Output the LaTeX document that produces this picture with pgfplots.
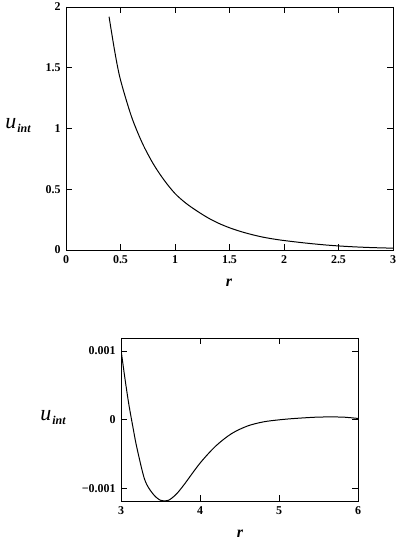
\documentclass[border=0pt]{standalone}
\usepackage{fontspec}
\setmainfont{Liberation Serif}
\usepackage{pgfplots}
\pgfplotsset{compat=1.18}
\begin{document}
\begin{tikzpicture}
\useasboundingbox (0bp,0bp) rectangle (400bp,541bp);
\pgfplotsset{
  myax/.style={
    scale only axis,
    axis line style={line width=0.9pt},
    tick align=inside,
    major tick length=6bp,
    tick style={line width=0.8pt, black},
    ticklabel style={font=\fontsize{12}{14}\selectfont\bfseries},
    xticklabel style={yshift=-2bp},
    yticklabel style={xshift=-2bp},
    scaled ticks=false,
    clip=true,
  }
}
\begin{axis}[myax,
  at={(66bp,291bp)}, anchor=south west,
  width=327bp, height=243bp,
  xmin=0, xmax=3, ymin=0, ymax=2,
  xtick={0,0.5,1,1.5,2,2.5,3},
  xticklabels={0,0.5,1,1.5,2,2.5,3},
  ytick={0,0.5,1,1.5,2},
  yticklabels={0,0.5,1,1.5,2},
]
\addplot[black, line width=1pt, smooth] coordinates {
(0.395,1.92) (0.45,1.62) (0.5,1.40) (0.6,1.10) (0.7,0.88) (0.8,0.71) (0.9,0.575)
(1.0,0.465) (1.1,0.385) (1.2,0.322) (1.3,0.266) (1.4,0.22) (1.5,0.183) (1.6,0.153)
(1.7,0.128) (1.8,0.107) (1.9,0.091) (2.0,0.078) (2.2,0.057) (2.4,0.04)
(2.6,0.028) (2.8,0.02) (3.0,0.015)
};
\end{axis}
\node[anchor=center, font=\fontsize{22}{24}\selectfont\itshape] at (18bp,415bp) {u\kern1pt\raisebox{-4pt}{\fontsize{12}{14}\selectfont\bfseries\itshape int}};
\node[font=\fontsize{16}{18}\selectfont\itshape\bfseries] at (229bp,258bp) {r};
\begin{axis}[myax,
  at={(121bp,40bp)}, anchor=south west,
  width=237bp, height=163bp,
  xmin=3, xmax=6, ymin=-0.00118, ymax=0.00119,
  xtick={3,4,5,6},
  xticklabels={3,4,5,6},
  ytick={-0.001,0,0.001},
  yticklabels={−0.001,0,0.001},
]
\addplot[black, line width=1pt, smooth] coordinates {
(3.0,0.00102) (3.05,0.00060) (3.1,0.00022) (3.15,-0.00010) (3.2,-0.00040)
(3.3,-0.00087) (3.4,-0.00107) (3.5,-0.00117) (3.6,-0.00117) (3.7,-0.00108)
(3.8,-0.00094) (4.0,-0.00063) (4.2,-0.00038) (4.4,-0.00020) (4.6,-0.00009)
(4.8,-0.00003) (5.0,0.0) (5.2,0.00002) (5.5,0.00004) (5.8,0.00004) (6.0,0.00002)
};
\end{axis}
\node[anchor=center, font=\fontsize{22}{24}\selectfont\itshape] at (53bp,123bp) {u\kern1pt\raisebox{-4pt}{\fontsize{12}{14}\selectfont\bfseries\itshape int}};
\node[font=\fontsize{16}{18}\selectfont\itshape\bfseries] at (240bp,7bp) {r};
\end{tikzpicture}
\end{document}
